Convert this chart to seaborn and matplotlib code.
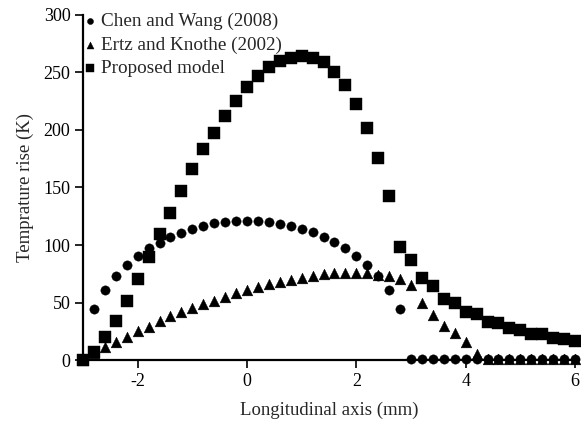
import numpy as np
import pandas as pd
import matplotlib
matplotlib.use("Agg")
import matplotlib.pyplot as plt
import seaborn as sns

x_mm = [round(-3 + 0.2 * i, 1) for i in range(46)]

chen_wang = [0, 44.3, 60.9, 73.3, 82.6, 90.7, 97.7, 102, 107.2, 110.7,
             113.9, 116.8, 118.8, 120, 120.9, 120.9, 120.9, 119.7, 118.3, 116.8,
             113.6, 111, 107.2, 102.3, 97, 90.4, 82.6, 73, 60.9, 44,
             0.5, 0.5, 0.5, 0.5, 0.5, 0.5, 0.5, 0.5, 0.5, 0.5,
             0.5, 0.5, 0.5, 0.5, 0.5, 0.5]

ertz_knothe = [0, 6, 11, 15.4, 20.3, 25.2, 29, 34.2, 38.3, 41.4,
               44.9, 49, 51.6, 55, 58.6, 60.9, 63.5, 65.8, 67.8, 69.9,
               71.3, 73, 74.8, 75.9, 75.9, 75.4, 75.9, 73.9, 73, 70.2,
               65.2, 49.3, 39.1, 29.6, 23.2, 15.9, 5.5, 0.8, 0.8, 0.8,
               0.8, 0.8, 0.8, 0.8, 0.8, 0.8]

proposed = [0, 6.7, 19.7, 34.2, 51.3, 70.4, 89.3, 109.6, 128, 147,
            165.8, 183.2, 197.7, 212.4, 225.2, 237, 247, 255, 260, 263,
            264.3, 263, 258.9, 250.7, 239, 223, 202, 175.4, 142.6, 98.5,
            87, 71, 64.3, 53, 49.3, 41.4, 40, 33.3, 31.9, 27.5,
            26, 22.6, 22.6, 19.4, 18, 16.5]

series_names = ["Chen and Wang (2008)", "Ertz and Knothe (2002)", "Proposed model"]
x_ticks = [-2, 0, 2, 4, 6]
y_ticks = [0, 50, 100, 150, 200, 250, 300]

df = pd.DataFrame({
    "x": x_mm * 3,
    "y": chen_wang + ertz_knothe + proposed,
    "series": [series_names[0]] * 46 + [series_names[1]] * 46 + [series_names[2]] * 46,
})

sns.set_style("ticks")
plt.rcParams["font.family"] = ["Liberation Serif", "DejaVu Serif"]

fig = plt.figure(figsize=(5.81, 4.23), dpi=100)
ax = fig.add_axes([83 / 581, 63 / 423, 492 / 581, 345 / 423])

markers = {series_names[0]: "o", series_names[1]: "^", series_names[2]: "s"}
sizes = {series_names[0]: 45, series_names[1]: 60, series_names[2]: 80}
for name in series_names:
    sub = df[df["series"] == name]
    sns.scatterplot(data=sub, x="x", y="y", marker=markers[name], color="black",
                    s=sizes[name], edgecolor="black", linewidth=0.3, ax=ax,
                    label=name, clip_on=False, zorder=3)

ax.set_xlim(-3, 6)
ax.set_ylim(0, 300)
ax.set_xticks(x_ticks)
ax.set_yticks(y_ticks)
ax.set_xticklabels([str(t) for t in x_ticks])
ax.tick_params(axis="both", labelsize=13, length=6, width=1.2, colors="black",
               direction="out", pad=3)
for side in ["top", "right"]:
    ax.spines[side].set_visible(False)
for side in ["left", "bottom"]:
    ax.spines[side].set_linewidth(1.6)
    ax.spines[side].set_color("black")

ax.set_xlabel("Longitudinal axis (mm)", fontsize=13.5, labelpad=9)
ax.set_ylabel("Temprature rise (K)", fontsize=13.5, labelpad=7)

leg = ax.legend(loc="upper left", bbox_to_anchor=(-0.022, 1.028), frameon=False,
                fontsize=13.8, handletextpad=0.0, labelspacing=0.3,
                borderaxespad=0.0, handlelength=1.1, markerscale=0.65)

fig.savefig("out.png", dpi=100)
